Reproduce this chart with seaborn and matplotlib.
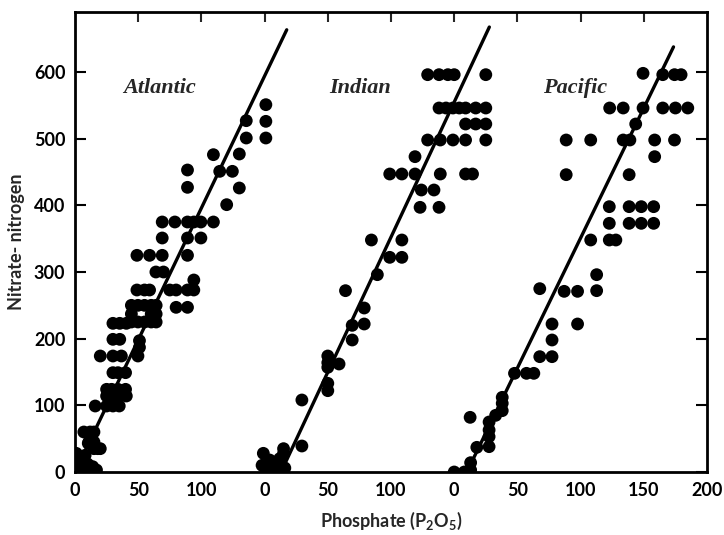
import numpy as np
import pandas as pd
import matplotlib
matplotlib.use("Agg")
import matplotlib.pyplot as plt
import seaborn as sns

# Nitrate-nitrogen against phosphate (P2O5) in three oceans (mg/m^3)
atlantic_p = [151, 151, 151, 135.5, 135.5, 130, 109.5, 114.5, 124.5, 89, 89, 130, 120,
              69, 79, 89, 94, 99.6, 109.5,
              69, 89, 99.6,
              49, 59, 69, 89,
              64, 70, 94,
              49, 55, 59, 75, 80, 89, 94,
              80, 89,
              44.6, 49.8, 55, 60.3, 64.2,
              44.6, 60.3, 64.2,
              44.6, 49.8, 55, 60.3, 64.2,
              30, 35.4, 40.6,
              30, 35.4, 51, 51,
              20, 30, 36.7, 49.8,
              30, 34, 40,
              25, 29, 34, 40,
              25, 30, 35.4, 40.6,
              16, 25, 30, 35,
              7, 12, 15, 11, 15, 15, 20, 10.5, 18,
              1, 4, 8, 1, 5, 10, 14, 2, 7, 12, 17, 3]
atlantic_n = [551, 526, 501, 527, 501, 477, 476, 451, 451, 453, 427, 426, 401,
              375, 375, 375, 375, 375, 375,
              351, 351, 351,
              325, 325, 325, 325,
              300, 300, 288,
              273, 273, 273, 273, 273, 273, 273,
              247, 247,
              250, 250, 250, 250, 250,
              237, 237, 237,
              225, 225, 225, 225, 225,
              223, 223, 223,
              199, 199, 197, 187,
              174, 174, 174, 174,
              149, 149, 149,
              124, 124, 124, 124,
              114, 114, 114, 114,
              99, 99, 99, 99,
              60, 60, 60, 45, 45, 35, 35, 43, 35,
              28, 22, 25, 12, 10, 12, 8, 2, 2, 2, 3, 18]

indian_p = [-1, 15, 15, 29.5, -2, 1, 4, 7, 10, 13, 16, 2, 6, 10, 14, 4, 12,
            29.5, 50, 50, 50, 50, 50, 58.9, 69.3, 69.3, 78.8, 78.8, 64, 89.2,
            99, 108.6, 84.5, 108.6, 123, 138, 124, 134,
            99, 108.6, 119, 139, 159, 164.5, 119,
            129, 139, 149, 159, 175,
            159, 167, 175,
            138, 143.5, 149, 154, 159, 167, 175,
            129, 138, 145, 150, 175]
indian_n = [28, 35, 28, 39, 10, 4, 12, 8, 5, 12, 6, 0, 0, 0, 0, 18, 20,
            108, 133, 122, 174, 164, 157, 162, 198, 220, 246, 222, 272, 296,
            322, 322, 348, 348, 397, 397, 423, 423,
            447, 447, 447, 447, 447, 447, 473,
            498, 498, 498, 498, 498,
            522, 522, 522,
            546, 546, 546, 546, 546, 546, 546,
            596, 596, 596, 596, 596]

pacific_p = [0, 8, 13, 13, 12.6, 17.9, 27.6, 27.6, 27.6, 27.6, 32.8, 38, 38, 38,
             47.7, 57.2, 63, 67.7, 77.4, 77.4, 77.4, 97.6, 67.7, 87, 97.6, 112.7, 112.7,
             108, 122.7, 127.9, 122.7, 138.4, 148, 157.8, 122.7, 138.4, 148, 157.8,
             88.6, 138.4, 158.6, 88.6, 108, 133.7, 139, 158.6, 174.3, 143.6,
             123, 133.7, 149.4, 165, 175, 184.8, 149.4, 165, 174.3, 179.5]
pacific_n = [0, 0, 3, 14, 82, 37, 75, 63, 53, 38, 85, 92, 103, 112,
             148, 148, 148, 173, 173, 198, 222, 222, 275, 271, 271, 272, 296,
             348, 348, 348, 373, 373, 373, 373, 398, 398, 398, 398,
             446, 446, 473, 498, 498, 498, 498, 498, 498, 522,
             546, 546, 546, 546, 546, 546, 598, 596, 596, 596]

oceans = ["Atlantic", "Indian", "Pacific"]
# Fitted lines: nitrate = slope * (phosphate - p_zero), drawn between p_start and p_end
line_slope = [3.96, 4.05, 3.9]
line_p_zero = [0.0, 13.0, 10.0]
line_p_start = [0.0, 13.0, 10.0]
line_p_end = [167.5, 177.8, 173.5]

# Each ocean is shifted along a common phosphate axis
x_shift = {"Atlantic": 0, "Indian": 150, "Pacific": 300}

pts = pd.concat([
    pd.DataFrame({"ocean": "Atlantic", "phosphate": atlantic_p, "nitrate": atlantic_n}),
    pd.DataFrame({"ocean": "Indian", "phosphate": indian_p, "nitrate": indian_n}),
    pd.DataFrame({"ocean": "Pacific", "phosphate": pacific_p, "nitrate": pacific_n}),
], ignore_index=True)
pts["x"] = pts["phosphate"] + pts["ocean"].map(x_shift)

rows = []
for name, s, p0, a, b in zip(oceans, line_slope, line_p_zero, line_p_start, line_p_end):
    for p in (a, b):
        rows.append({"ocean": name, "x": p + x_shift[name], "nitrate": s * (p - p0)})
lines = pd.DataFrame(rows)

sns.set_theme(style="white")
plt.rcParams["font.family"] = ["Lato", "DejaVu Sans"]
plt.rcParams["font.weight"] = "bold"
plt.rcParams["mathtext.default"] = "regular"

fig = plt.figure(figsize=(7.24, 5.35), dpi=100)
ax = fig.add_axes([75 / 724, 63 / 535, 632 / 724, 460 / 535])

for name in oceans:
    sns.lineplot(data=lines[lines["ocean"] == name], x="x", y="nitrate",
                 color="black", linewidth=2.4, ax=ax, legend=False, zorder=2)
sns.scatterplot(data=pts, x="x", y="nitrate", color="black", s=85,
                edgecolor="none", ax=ax, legend=False, zorder=3)

ax.set_xlim(0, 500)
ax.set_ylim(0, 690)

bottom_ticks = [0, 50, 100, 150, 200, 250, 300, 350, 400, 450, 500]
bottom_labels = ["0", "50", "100", "0", "50", "100", "0", "50", "100", "150", "200"]
ax.set_xticks(bottom_ticks)
ax.set_xticklabels(bottom_labels)
ax.set_yticks([0, 100, 200, 300, 400, 500, 600])

ax.tick_params(axis="both", direction="in", length=8, width=1.5, labelsize=13,
               colors="black", pad=7)
ax.tick_params(axis="y", right=True, left=True)

top = ax.secondary_xaxis("top")
top.set_xticks([50, 100, 150, 200, 250, 300, 350, 400, 450])
top.tick_params(direction="in", length=7, width=1.5, labeltop=False)
top.spines["top"].set_visible(False)

for sp in ax.spines.values():
    sp.set_visible(True)
    sp.set_color("black")
    sp.set_linewidth(2.0)

ax.set_xlabel("Phosphate (P$_2$O$_5$)", fontsize=13, labelpad=8, fontweight="bold")
ax.set_ylabel("Nitrate- nitrogen", fontsize=13, labelpad=6, fontweight="bold")

label_pos = {"Atlantic": 67, "Indian": 75.6, "Pacific": 95.4}
for name in oceans:
    ax.text(label_pos[name] + x_shift[name], 576, name, ha="center", va="center",
            fontsize=16, fontstyle="italic", fontweight="bold",
            family="Liberation Serif")

fig.savefig("out.png", dpi=100, facecolor="white")
